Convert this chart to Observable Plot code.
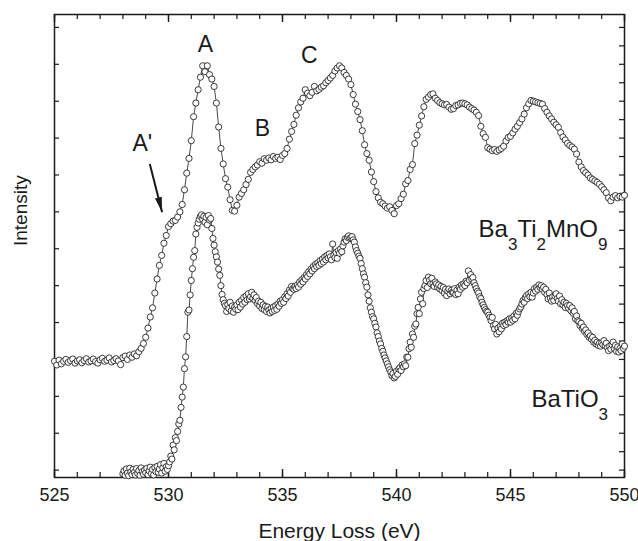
<!DOCTYPE html>
<html>
<head>
<meta charset="utf-8">
<script src="https://cdn.jsdelivr.net/npm/d3@7"></script>
<script src="https://cdn.jsdelivr.net/npm/@observablehq/plot@0.6"></script>
<style>
  html, body { margin: 0; padding: 0; background: #fff; }
  #chart { width: 638px; height: 541px; }
</style>
</head>
<body>
<div id="chart"></div>
<script>
// ---- Data ----
// Ba3Ti2MnO9 spectrum, energies from 525.0 eV in steps of 0.1 eV
const upperStart = 525.0, upperStep = 0.1;
const upperIntensity = [
  2.95, 2.85, 2.98, 2.88, 2.95, 3.00, 2.92, 2.97, 3.01, 2.90,
  2.96, 2.99, 2.91, 2.97, 3.02, 2.93, 2.96, 3.01, 2.94, 2.90,
  2.99, 3.03, 2.95, 2.98, 3.04, 2.93, 2.97, 3.02, 2.96, 2.86,
  3.05, 3.09, 3.00, 3.12, 3.06, 3.15, 3.10, 3.21, 3.30, 3.43,
  3.60, 3.85, 4.15, 4.40, 4.80, 5.18, 5.55, 5.82, 6.15, 6.36,
  6.60, 6.68, 6.75, 6.77, 6.86, 7.00, 7.20, 7.60, 8.05, 8.45,
  8.93, 9.58, 9.95, 10.31, 10.65, 10.96, 10.80, 10.96, 10.72, 10.60,
  10.40, 9.95, 9.30, 8.72, 8.30, 7.90, 7.67, 7.33, 7.04, 7.02,
  7.18, 7.40, 7.50, 7.60, 7.74, 7.88, 8.07, 8.15, 8.22, 8.27,
  8.36, 8.32, 8.44, 8.40, 8.46, 8.41, 8.50, 8.45, 8.48, 8.42,
  8.53, 8.58, 8.72, 8.97, 9.18, 9.37, 9.62, 9.82, 9.98, 10.08,
  10.31, 10.22, 10.15, 10.24, 10.40, 10.28, 10.32, 10.38, 10.42, 10.50,
  10.56, 10.63, 10.70, 10.82, 10.90, 10.96, 10.90, 10.78, 10.70, 10.60,
  10.45, 10.18, 9.92, 9.72, 9.50, 9.20, 8.82, 8.58, 8.40, 8.08,
  7.82, 7.55, 7.38, 7.26, 7.22, 7.16, 7.10, 7.14, 7.04, 6.95,
  7.17, 7.22, 7.36, 7.48, 7.76, 7.85, 8.15, 8.28, 8.85, 9.08,
  9.35, 9.60, 9.85, 10.05, 10.11, 10.18, 10.20, 10.08, 10.02, 9.96,
  9.93, 9.90, 9.91, 9.84, 9.78, 9.80, 9.88, 9.90, 9.94, 9.95,
  9.93, 9.90, 9.84, 9.80, 9.76, 9.70, 9.61, 9.32, 9.12, 9.02,
  8.74, 8.70, 8.66, 8.69, 8.64, 8.68, 8.72, 8.78, 8.92, 9.02,
  9.05, 9.14, 9.24, 9.32, 9.42, 9.52, 9.65, 9.82, 9.93, 10.02,
  10.00, 9.98, 9.96, 9.94, 9.92, 9.80, 9.70, 9.60, 9.52, 9.43,
  9.36, 9.29, 9.15, 9.03, 8.95, 8.86, 8.80, 8.76, 8.70, 8.57,
  8.35, 8.22, 8.12, 8.06, 8.00, 7.92, 7.88, 7.84, 7.80, 7.75,
  7.68, 7.60, 7.52, 7.38, 7.30, 7.40, 7.44, 7.38, 7.42, 7.40,
  7.45
];

// BaTiO3 spectrum, energies from 528.0 eV in steps of 0.05 eV
const lowerStart = 528.0, lowerStep = 0.05;
const lowerIntensity = [
  -0.10, -0.02, -0.14, 0.03, -0.08, -0.15, 0.05, -0.05, -0.12, 0.02,
  -0.06, -0.13, 0.04, -0.09, -0.01, -0.14, 0.06, -0.04, -0.11, 0.00,
  -0.07, 0.05, -0.12, -0.02, 0.08, -0.09, 0.02, -0.13, 0.07, -0.04,
  0.10, -0.06, 0.03, 0.15, -0.08, 0.06, 0.18, -0.03, 0.09, 0.02,
  0.12, 0.22, 0.38, 0.30, 0.68, 0.55, 0.88, 0.80, 1.05, 1.25,
  1.35, 1.70, 1.98, 2.25, 2.75, 3.07, 3.62, 4.28, 4.34, 4.75,
  5.14, 5.46, 5.77, 5.95, 6.40, 6.58, 6.70, 6.80, 6.88, 6.92,
  6.80, 6.88, 6.72, 6.85, 6.65, 6.90, 6.78, 6.82, 6.55, 6.28,
  6.10, 5.92, 5.78, 5.64, 5.45, 5.28, 5.00, 4.76, 4.62, 4.52,
  4.46, 4.30, 4.48, 4.38, 4.55, 4.32, 4.45, 4.28, 4.42, 4.36,
  4.48, 4.35, 4.55, 4.42, 4.60, 4.50, 4.68, 4.55, 4.72, 4.62,
  4.78, 4.64, 4.70, 4.82, 4.66, 4.75, 4.60, 4.68, 4.52, 4.58,
  4.45, 4.55, 4.38, 4.48, 4.35, 4.44, 4.30, 4.42, 4.34, 4.26,
  4.38, 4.30, 4.42, 4.33, 4.46, 4.36, 4.50, 4.44, 4.58, 4.52,
  4.62, 4.55, 4.70, 4.65, 4.78, 4.72, 4.88, 4.82, 4.98, 4.92,
  4.90, 4.98, 4.92, 5.02, 4.96, 5.10, 5.04, 5.16, 5.10, 5.22,
  5.18, 5.30, 5.25, 5.38, 5.32, 5.45, 5.40, 5.52, 5.46, 5.58,
  5.52, 5.62, 5.55, 5.68, 5.60, 5.72, 5.64, 5.78, 5.70, 5.82,
  5.75, 5.86, 5.78, 5.70, 6.13, 5.82, 5.76, 5.90, 5.74, 5.95,
  5.88, 6.00, 5.92, 6.08, 6.18, 6.27, 6.22, 6.31, 6.35, 6.28,
  6.30, 6.33, 6.24, 6.18, 6.05, 5.95, 5.88, 5.80, 5.74, 5.60,
  5.46, 5.32, 5.23, 5.08, 4.96, 4.75, 4.58, 4.40, 4.28, 4.16,
  4.10, 3.98, 3.88, 3.72, 3.62, 3.50, 3.42, 3.30, 3.22, 3.12,
  3.04, 2.96, 2.88, 2.80, 2.72, 2.66, 2.56, 2.62, 2.50, 2.54,
  2.68, 2.60, 2.74, 2.78, 2.70, 2.85, 2.80, 2.88, 2.83, 3.06,
  3.06, 3.29, 3.47, 3.33, 3.69, 3.60, 3.90, 3.96, 4.24, 4.41,
  4.24, 4.64, 4.82, 4.51, 4.92, 5.00, 5.14, 4.95, 5.23, 5.15,
  5.05, 5.20, 5.05, 4.98, 5.10, 5.05, 4.96, 5.02, 4.91, 4.98,
  4.87, 4.95, 4.80, 4.90, 4.73, 4.85, 4.91, 4.78, 4.87, 4.82,
  4.82, 4.92, 4.76, 4.88, 4.78, 4.96, 4.90, 5.02, 4.96, 5.05,
  5.00, 5.12, 5.08, 5.40, 5.15, 5.30, 5.18, 5.22, 5.08, 5.00,
  4.92, 4.85, 4.80, 4.70, 4.65, 4.55, 4.48, 4.41, 4.35, 4.30,
  4.28, 4.20, 4.14, 4.05, 4.14, 3.92, 3.83, 3.95, 3.69, 3.85,
  3.75, 3.90, 3.83, 3.98, 3.92, 4.01, 3.95, 4.05, 4.01, 4.10,
  4.01, 4.12, 4.06, 4.18, 4.10, 4.25, 4.20, 4.30, 4.37, 4.42,
  4.50, 4.60, 4.55, 4.68, 4.73, 4.65, 4.78, 4.70, 4.82, 4.69,
  4.80, 4.92, 4.85, 4.96, 4.90, 5.02, 4.95, 5.00, 4.90, 4.96,
  4.82, 4.90, 4.76, 4.64, 4.80, 4.66, 4.58, 4.70, 4.60, 4.72,
  4.78, 4.65, 4.58, 4.72, 4.51, 4.62, 4.48, 4.55, 4.41, 4.52,
  4.46, 4.38, 4.46, 4.32, 4.40, 4.25, 4.30, 4.10, 4.18, 4.05,
  4.02, 3.92, 3.98, 3.84, 3.88, 3.76, 3.80, 3.68, 3.72, 3.60,
  3.64, 3.55, 3.60, 3.47, 3.52, 3.42, 3.47, 3.38, 3.44, 3.36,
  3.45, 3.40, 3.51, 3.38, 3.44, 3.32, 3.24, 3.36, 3.28, 3.40,
  3.47, 3.30, 3.38, 3.22, 3.34, 3.20, 3.30, 3.24, 3.42, 3.30,
  3.36
];

// Axis ticks
const xMajorTicks = [525, 530, 535, 540, 545, 550];
const xMinorTicks = d3.range(525, 551, 1);
const yLeftTicks = d3.range(0, 13, 1);
const yRightTicks = d3.range(0, 12.5, 0.5);

// Annotations
const peakLabels = ["A", "B", "C"];
const peakLabelX = [531.62, 534.12, 536.18];
const peakLabelY = [11.32, 9.07, 11.04];
const shoulderLabel = "A'";
const shoulderX = 528.42, shoulderY = 8.66;
const arrowFrom = [529.18, 8.30], arrowTo = [529.72, 6.99];
const formulaLabels = ["Ba3Ti2MnO9", "BaTiO3"];
const formulaX = [543.60, 545.92];
const formulaY = [6.31, 1.70];
const xTitle = "Energy Loss (eV)";
const yTitle = "Intensity";

// ---- Build tables ----
const upper = upperIntensity.map((v, i) => ({e: upperStart + i * upperStep, v}));
const lower = lowerIntensity.map((v, i) => ({e: lowerStart + i * lowerStep, v}));
const peaks = peakLabels.map((t, i) => ({t, x: peakLabelX[i], y: peakLabelY[i]}));
const formulas = formulaLabels.map((t, i) => ({t, x: formulaX[i], y: formulaY[i]}));

const ink = "#1a1a1a";
const font = "'Liberation Sans', Arial, Helvetica, sans-serif";

const W = 638, H = 541, ML = 54, MR = 14, MT = 14, MB = 64;
const frameW = W - ML - MR, frameH = H - MT - MB;

// inward ticks drawn as frame-spanning ticks trimmed by insets
function inwardTicks(values, side, len, sw) {
  const common = {stroke: ink, strokeWidth: sw};
  if (side === "bottom") return Plot.tickX(values, {x: d => d, insetTop: frameH - len, ...common});
  if (side === "top") return Plot.tickX(values, {x: d => d, insetBottom: frameH - len, ...common});
  if (side === "left") return Plot.tickY(values, {y: d => d, insetRight: frameW - len, ...common});
  return Plot.tickY(values, {y: d => d, insetLeft: frameW - len, ...common});
}

// arrow direction (screen degrees, clockwise from up)
const arrowAngle = 165.6;

const chart = Plot.plot({
  width: W,
  height: H,
  marginLeft: ML,
  marginRight: MR,
  marginTop: MT,
  marginBottom: MB,
  style: {fontFamily: font, color: ink, background: "#fff", overflow: "visible"},
  x: {domain: [525, 550], axis: null},
  y: {domain: [-0.2, 12.35], axis: null},
  marks: [
    // inward ticks
    inwardTicks(xMinorTicks, "bottom", 5, 1.2),
    inwardTicks(xMajorTicks, "bottom", 8, 1.4),
    inwardTicks(xMinorTicks, "top", 5, 1.2),
    inwardTicks(xMajorTicks, "top", 8, 1.4),
    inwardTicks(yLeftTicks, "left", 5, 1.2),
    inwardTicks(yRightTicks, "right", 5, 1.2),
    // tick labels
    Plot.axisX(xMajorTicks, {anchor: "bottom", tickSize: 0, tickPadding: 11, fontSize: 18, label: null, fill: ink, tickFormat: d => String(d)}),
    // frame
    Plot.frame({stroke: ink, strokeWidth: 1.5}),
    // spectra
    Plot.line(upper, {x: "e", y: "v", stroke: ink, strokeWidth: 0.8}),
    Plot.dot(upper, {x: "e", y: "v", r: 3.1, fill: "white", stroke: ink, strokeWidth: 0.85}),
    Plot.line(lower, {x: "e", y: "v", stroke: ink, strokeWidth: 0.8}),
    Plot.dot(lower, {x: "e", y: "v", r: 3.1, fill: "white", stroke: ink, strokeWidth: 0.85}),
    // annotations
    Plot.text(peaks, {x: "x", y: "y", text: "t", fontSize: 23, lineAnchor: "bottom", textAnchor: "middle", fill: ink}),
    Plot.text([shoulderLabel], {x: shoulderX, y: shoulderY, text: d => d, fontSize: 23, lineAnchor: "bottom", textAnchor: "start", fill: ink}),
    Plot.link([0], {x1: arrowFrom[0], y1: arrowFrom[1], x2: arrowTo[0], y2: arrowTo[1], stroke: ink, strokeWidth: 2}),
    Plot.vector([0], {x: arrowTo[0], y: arrowTo[1], length: 15, rotate: arrowAngle, anchor: "end", shape: "spike", r: 3.5, fill: ink, stroke: "none"}),
    Plot.text(formulas, {x: "x", y: "y", text: "t", fontSize: 24, lineAnchor: "bottom", textAnchor: "start", fill: ink}),
    // axis titles
    Plot.text([xTitle], {frameAnchor: "bottom", dy: 60, text: d => d, fontSize: 21, lineAnchor: "bottom", fill: ink}),
    Plot.text([yTitle], {frameAnchor: "left", dx: -28, rotate: -90, text: d => d, fontSize: 19, lineAnchor: "bottom", fill: ink})
  ]
});

// Subscript digits in chemical formulas
chart.querySelectorAll("text").forEach(t => {
  const s = t.textContent;
  if (!formulaLabels.includes(s)) return;
  t.textContent = "";
  let shifted = false;
  s.split(/(\d+)/).filter(Boolean).forEach(part => {
    const ts = document.createElementNS("http://www.w3.org/2000/svg", "tspan");
    if (/^\d+$/.test(part)) {
      ts.setAttribute("font-size", "17");
      ts.setAttribute("dy", "13");
      shifted = true;
    } else if (shifted) {
      ts.setAttribute("dy", "-13");
      shifted = false;
    }
    ts.textContent = part;
    t.appendChild(ts);
  });
});

document.getElementById("chart").appendChild(chart);
</script>
</body>
</html>
